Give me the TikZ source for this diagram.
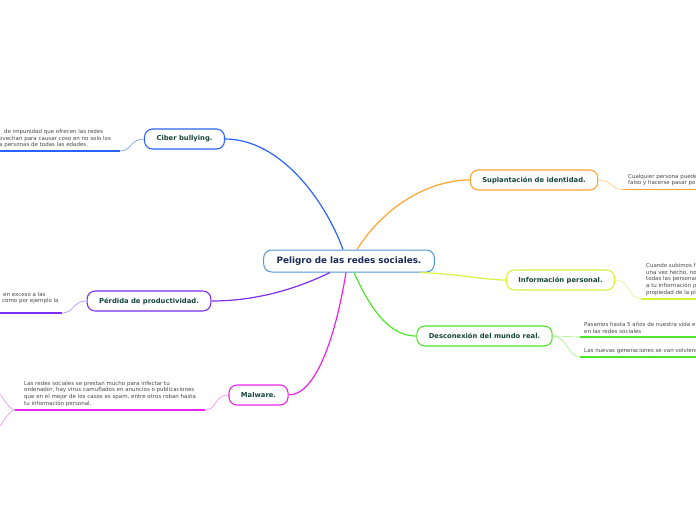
\documentclass[tikz,border=0pt]{standalone}
\usepackage{fontspec}
\setmainfont{DejaVu Sans}
\usepackage{xcolor}
\usetikzlibrary{positioning}

\definecolor{cBlue}{HTML}{2962FF}
\definecolor{cBluePale}{HTML}{6F96FF}
\definecolor{cPurple}{HTML}{7B2EF5}
\definecolor{cPurplePale}{HTML}{A98BFF}
\definecolor{cMagenta}{HTML}{EE22EE}
\definecolor{cMagentaPale}{HTML}{F28AF2}
\definecolor{cOrange}{HTML}{FFA52E}
\definecolor{cOrangePale}{HTML}{FFCB80}
\definecolor{cLime}{HTML}{D6F23C}
\definecolor{cLimePale}{HTML}{E2F58C}
\definecolor{cGreen}{HTML}{4EE62A}
\definecolor{cGreenPale}{HTML}{A0F084}
\definecolor{cCore}{HTML}{5196DA}
\definecolor{cNavy}{HTML}{1B2B57}
\definecolor{cTeal}{HTML}{17463A}
\definecolor{cLeafText}{HTML}{474747}

\begin{document}
\begin{tikzpicture}[
    x=1pt, y=-1pt,
    core/.style={
        rectangle,
        rounded corners=8pt,
        draw=cCore,
        line width=1pt,
        fill=white,
        text=cNavy,
        font=\fontsize{8.8}{10}\selectfont\bfseries,
        minimum height=22pt,
        inner xsep=13pt
    },
    topic/.style={
        rectangle,
        rounded corners=8pt,
        line width=1.1pt,
        fill=white,
        text=cTeal,
        font=\fontsize{6.8}{8}\selectfont\bfseries,
        minimum height=20pt,
        inner xsep=12pt
    },
    leaf/.style={
        align=left,
        text=cLeafText,
        font=\fontsize{5.5}{6.6}\selectfont,
        inner xsep=0pt,
        inner ysep=1.5pt
    },
    branch/.style={line width=1.2pt},
    twig/.style={line width=0.6pt},
    uline/.style={line width=1.6pt}
]
\useasboundingbox (0,0) rectangle (696,520);
\clip (0,0) rectangle (696,520);

% =========================================================
% Central topic and main branches
% =========================================================
\node[core] (core) at (349,261) {Peligro de las redes sociales.};

\node[topic, draw=cBlue] (ciber) at (184.5,139) {Ciber bullying.};
\node[topic, draw=cPurple] (perdida) at (149,301) {Pérdida de productividad.};
\node[topic, draw=cMagenta] (malware) at (258.5,395) {Malware.};
\node[topic, draw=cOrange] (supl) at (534,180) {Suplantación de identidad.};
\node[topic, draw=cLime] (info) at (560.5,280) {Información personal.};
\node[topic, draw=cGreen] (desc) at (484.5,336) {Desconexión del mundo real.};

% Branches from the centre
\draw[branch, cBlue] ([xshift=-6pt]core.north) .. controls (325,200) and (280,139) .. (ciber.east);
\draw[branch, cOrange] ([xshift=8pt]core.north) .. controls (385,205) and (430,180) .. (supl.west);
\draw[branch, cLime] ([xshift=-15pt]core.south east) .. controls (460,274) and (485,280) .. (info.west);
\draw[branch, cGreen] ([xshift=5pt]core.south) .. controls (375,320) and (395,336) .. (desc.west);
\draw[branch, cPurple] ([xshift=-19pt]core.south) .. controls (290,292) and (250,301) .. (perdida.east);
\draw[branch, cMagenta] ([xshift=-3pt]core.south) .. controls (335,340) and (315,395) .. (malware.east);

% =========================================================
% Leaf texts with their underlines
% =========================================================

% Ciber bullying
\coordinate (ciberA) at (120,151);
\coordinate (ciberB) at (-5,151);
\node[leaf, anchor=south west] (ciberTxt) at (-1,149.5)
    {\hspace*{5pt}de impunidad que ofrecen las redes\\ovechan para causar coso en no solo los\\a personas de todas las edades.};
\draw[twig, cBluePale] (ciber.west) .. controls +(-14,0) and +(12,0) .. (ciberA);
\draw[uline, cBlue] (ciberA) -- (ciberB);

% Perdida de productividad
\coordinate (perdidaA) at (62,313);
\coordinate (perdidaB) at (-5,313);
\node[leaf, anchor=south west] (perdidaTxt) at (2,305.5)
    {\hspace*{1pt}en exceso a las\\como por ejemplo la};
\draw[twig, cPurplePale] (perdida.west) .. controls +(-14,0) and +(12,0) .. (perdidaA);
\draw[uline, cPurple] (perdidaA) -- (perdidaB);

% Malware
\coordinate (malwareA) at (205,410);
\coordinate (malwareB) at (15,410);
\coordinate (malwareUp) at (-8,388);
\coordinate (malwareDown) at (-8,432);
\node[leaf, anchor=south west] (malwareTxt) at (24,408)
    {Las redes sociales se prestan mucho para infectar tu\\ordenador, hay virus camuflados en anuncios o publicaciones\\que en el mejor de los casos es spam, entre otros roban hasta\\tu información personal.};
\draw[twig, cMagentaPale] (malware.west) .. controls +(-14,0) and +(12,0) .. (malwareA);
\draw[uline, cMagenta] (malwareA) -- (malwareB);
\draw[twig, cMagentaPale] (malwareB) .. controls +(-8,0) and +(8,0) .. (malwareUp);
\draw[twig, cMagentaPale] (malwareB) .. controls +(-8,0) and +(8,0) .. (malwareDown);

% Suplantacion de identidad
\coordinate (suplA) at (623,189.5);
\coordinate (suplB) at (705,189.5);
\node[leaf, anchor=south west] (suplTxt) at (628,187.5)
    {Cualquier persona puede\\falso y hacerse pasar po};
\draw[twig, cOrangePale] (supl.east) .. controls +(14,0) and +(-12,0) .. (suplA);
\draw[uline, cOrange] (suplA) -- (suplB);

% Informacion personal
\coordinate (infoA) at (641,299);
\coordinate (infoB) at (705,299);
\node[leaf, anchor=south west] (infoTxt) at (646,297)
    {Cuando subimos f\\una vez hecho, no\\todas las personas\\a tu información p\\propiedad de la pl};
\draw[twig, cLimePale] (info.east) .. controls +(14,0) and +(-12,0) .. (infoA);
\draw[uline, cLime] (infoA) -- (infoB);

% Desconexion del mundo real
\coordinate (descA) at (580,337);
\coordinate (descB) at (705,337);
\coordinate (descC) at (580,357);
\coordinate (descD) at (705,357);
\node[leaf, anchor=south west] (descTxt) at (584,335)
    {Pasamos hasta 5 años de nuestra vida e\\en las redes sociales};
\node[leaf, anchor=south west] (descTxtB) at (584,355)
    {Las nuevas generaciones se van volviend};
\draw[twig, cGreenPale] (desc.east) .. controls +(14,0) and +(-12,0) .. (descA);
\draw[twig, cGreenPale] (desc.east) .. controls +(14,0) and +(-12,0) .. (descC);
\draw[uline, cGreen] (descA) -- (descB);
\draw[uline, cGreen] (descC) -- (descD);

\end{tikzpicture}
\end{document}
